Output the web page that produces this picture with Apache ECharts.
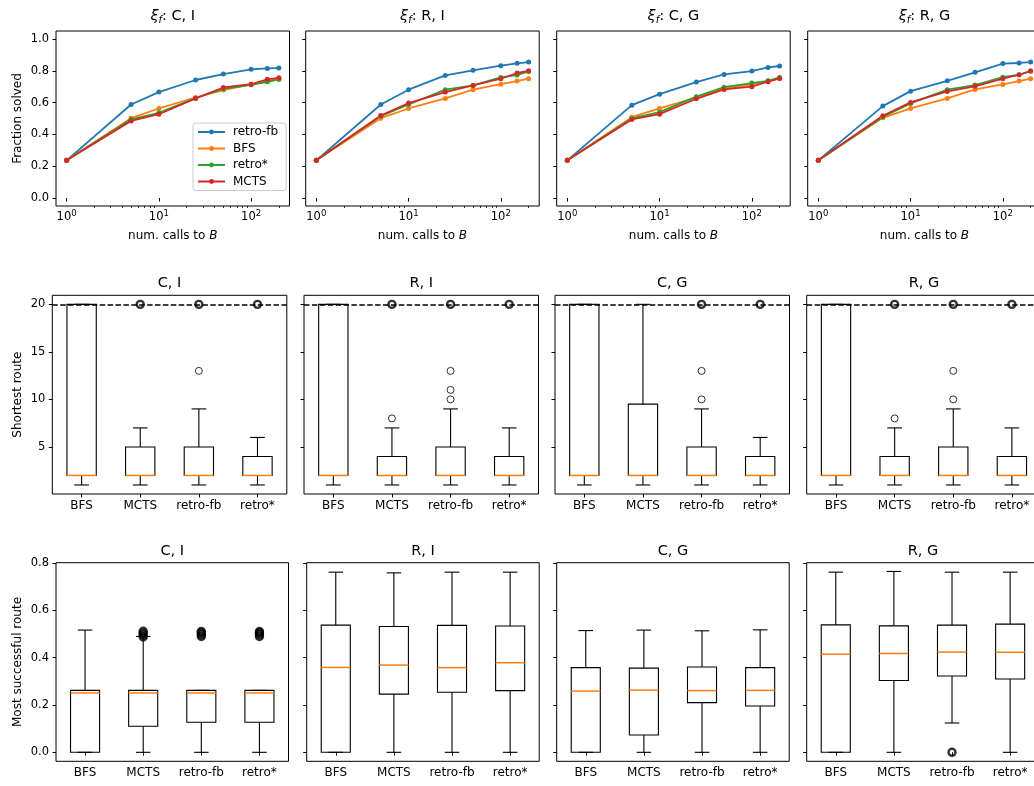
<!DOCTYPE html>
<html>
<head>
<meta charset="utf-8">
<script src="https://cdn.jsdelivr.net/npm/echarts@6/dist/echarts.min.js"></script>
<style>
html, body { margin: 0; padding: 0; background: #fff; }
#chart { width: 1034px; height: 786px; }
</style>
</head>
<body>
<div id="chart"></div>
<script>
// panels, left to right
const panelNames = ['C, I', 'R, I', 'C, G', 'R, G'];

// top row: fraction solved vs number of calls
const callCounts = [1, 5, 10, 25, 50, 100, 150, 200];
const lineMethods = ['retro-fb', 'BFS', 'retro*', 'MCTS'];
const solvedRetroFb = [
    [0.237, 0.588, 0.666, 0.742, 0.779, 0.809, 0.815, 0.817],
    [0.237, 0.588, 0.681, 0.771, 0.803, 0.832, 0.847, 0.855],
    [0.237, 0.584, 0.653, 0.729, 0.777, 0.798, 0.821, 0.830],
    [0.237, 0.578, 0.672, 0.737, 0.790, 0.845, 0.849, 0.855]
];
const solvedBFS = [
    [0.237, 0.502, 0.563, 0.632, 0.679, 0.714, 0.733, 0.745],
    [0.237, 0.502, 0.563, 0.626, 0.681, 0.716, 0.735, 0.750],
    [0.237, 0.508, 0.563, 0.632, 0.687, 0.714, 0.735, 0.752],
    [0.237, 0.504, 0.563, 0.626, 0.683, 0.714, 0.735, 0.750]
];
const solvedRetroStar = [
    [0.237, 0.495, 0.536, 0.628, 0.687, 0.712, 0.731, 0.748],
    [0.237, 0.515, 0.588, 0.681, 0.708, 0.758, 0.773, 0.796],
    [0.237, 0.500, 0.540, 0.637, 0.697, 0.723, 0.737, 0.758],
    [0.237, 0.510, 0.595, 0.681, 0.710, 0.760, 0.775, 0.798]
];
const solvedMCTS = [
    [0.237, 0.485, 0.527, 0.626, 0.695, 0.716, 0.746, 0.756],
    [0.237, 0.519, 0.597, 0.666, 0.708, 0.750, 0.786, 0.800],
    [0.237, 0.494, 0.527, 0.624, 0.683, 0.700, 0.731, 0.752],
    [0.237, 0.517, 0.601, 0.670, 0.702, 0.750, 0.775, 0.798]
];
const decadeTicks = [1, 10, 100];
const minorLogTicks = [2, 3, 4, 5, 6, 7, 8, 9, 20, 30, 40, 50, 60, 70, 80, 90, 200];
const solvedTicks = [0, 0.2, 0.4, 0.6, 0.8, 1.0];

// box plots: [low whisker, q1, median, q3, high whisker]
const boxCategories = ['BFS', 'MCTS', 'retro-fb', 'retro*'];
const shortestStats = [
    [[1, 2, 2, 20, 20], [1, 2, 2, 5, 7], [1, 2, 2, 5, 9], [1, 2, 2, 4, 6]],
    [[1, 2, 2, 20, 20], [1, 2, 2, 4, 7], [1, 2, 2, 5, 9], [1, 2, 2, 4, 7]],
    [[1, 2, 2, 20, 20], [1, 2, 2, 9.5, 20], [1, 2, 2, 5, 9], [1, 2, 2, 4, 6]],
    [[1, 2, 2, 20, 20], [1, 2, 2, 4, 7], [1, 2, 2, 5, 9], [1, 2, 2, 4, 7]]
];
// outliers: [category index, value, how many]
const shortestOutliers = [
    [[1, 20, 30], [2, 13, 1], [2, 20, 30], [3, 20, 30]],
    [[1, 8, 1], [1, 20, 30], [2, 10, 1], [2, 11, 1], [2, 13, 1], [2, 20, 30], [3, 20, 30]],
    [[2, 10, 1], [2, 13, 1], [2, 20, 30], [3, 20, 30]],
    [[1, 8, 1], [1, 20, 30], [2, 10, 1], [2, 13, 1], [2, 20, 30], [3, 20, 30]]
];
const routeCap = 20;
const routeTicks = [5, 10, 15, 20];

const successStats = [
    [[0, 0, 0.251, 0.262, 0.517], [0, 0.110, 0.251, 0.262, 0.490], [0, 0.127, 0.251, 0.262, 0.262], [0, 0.127, 0.251, 0.262, 0.262]],
    [[0, 0, 0.359, 0.538, 0.762], [0, 0.246, 0.369, 0.532, 0.759], [0, 0.254, 0.358, 0.537, 0.762], [0, 0.261, 0.379, 0.534, 0.762]],
    [[0, 0, 0.259, 0.358, 0.515], [0, 0.073, 0.263, 0.356, 0.517], [0, 0.210, 0.261, 0.361, 0.514], [0, 0.196, 0.262, 0.358, 0.518]],
    [[0, 0, 0.415, 0.539, 0.762], [0, 0.304, 0.418, 0.535, 0.765], [0.124, 0.323, 0.424, 0.538, 0.762], [0, 0.310, 0.423, 0.542, 0.762]]
];
const successOutliers = [
    [[1, 0.488, 5], [1, 0.496, 5], [1, 0.504, 5], [1, 0.512, 5], [2, 0.490, 5], [2, 0.498, 5], [2, 0.506, 5], [2, 0.511, 5],
     [3, 0.490, 5], [3, 0.498, 5], [3, 0.506, 5], [3, 0.511, 5]],
    [],
    [],
    [[2, 0, 10]]
];
const successTicks = [0, 0.2, 0.4, 0.6, 0.8];

const FONT = 'DejaVu Sans';
const colors = ['#1f77b4', '#ff7f0e', '#2ca02c', '#d62728'];
const solvedByMethod = [solvedRetroFb, solvedBFS, solvedRetroStar, solvedMCTS];

const rowsLayout = [
    { top: 31, height: 175, lefts: [56, 305.7, 556.7, 807.7], width: 233.5, titleTop: 7.7 },
    { top: 295.3, height: 198.7, lefts: [52.3, 304, 555, 806.7], width: 234.5, titleTop: 274 },
    { top: 562.7, height: 198.6, lefts: [56, 306.7, 556.7, 806.7], width: 232.5, titleTop: 542 }
];

const tick = { show: true, length: 3.5, lineStyle: { color: '#000', width: 1 } };
const tickLabel = { color: '#000', fontSize: 11.5, fontFamily: FONT };

const grids = [], xAxes = [], yAxes = [], series = [], titles = [];

rowsLayout.forEach((row, r) => {
    row.lefts.forEach((left, c) => {
        grids.push({
            left: left, top: row.top, width: row.width, height: row.height,
            containLabel: false, outerBoundsMode: 'none',
            show: true, borderColor: '#000', borderWidth: 1, backgroundColor: 'transparent'
        });
        const text = r === 0 ? '{x|ξ}{s|f}: ' + panelNames[c] : panelNames[c];
        titles.push({
            text: text, left: left + row.width / 2, top: row.titleTop, textAlign: 'center', padding: 0,
            textStyle: {
                fontSize: 14.5, fontWeight: 'normal', color: '#000', fontFamily: FONT, lineHeight: 18,
                rich: {
                    x: { fontSize: 14.5, fontStyle: 'italic', fontFamily: FONT, color: '#000', lineHeight: 18 },
                    s: { fontSize: 10, fontStyle: 'italic', fontFamily: FONT, color: '#000', lineHeight: 10, verticalAlign: 'bottom' }
                }
            }
        });
    });
});

// top row axes and lines
for (let c = 0; c < 4; c++) {
    xAxes.push({
        type: 'log', logBase: 10, gridIndex: c, min: 0.767, max: 260.6,
        axisLine: { show: false }, splitLine: { show: false },
        axisTick: Object.assign({}, tick, { customValues: decadeTicks }),
        axisLabel: Object.assign({}, tickLabel, {
            customValues: decadeTicks, margin: 3, lineHeight: 16,
            formatter: v => '{b|10}{e|' + Math.round(Math.log10(v)) + '}',
            rich: {
                b: { fontSize: 11.5, fontFamily: FONT, color: '#000', lineHeight: 16 },
                e: { fontSize: 8.5, fontFamily: FONT, color: '#000', lineHeight: 8, verticalAlign: 'top' }
            }
        }),
        name: 'num. calls to {i|B}', nameLocation: 'middle', nameGap: 24,
        nameTextStyle: { color: '#000', fontSize: 12, fontFamily: FONT, rich: { i: { fontStyle: 'italic', fontSize: 12, fontFamily: FONT, color: '#000' } } }
    });
    yAxes.push({
        type: 'value', gridIndex: c, min: -0.05, max: 1.05,
        axisLine: { show: false }, splitLine: { show: false },
        axisTick: Object.assign({}, tick, { customValues: solvedTicks }),
        axisLabel: Object.assign({}, tickLabel, { show: c === 0, customValues: solvedTicks, margin: 7, formatter: v => v.toFixed(1) }),
        name: c === 0 ? 'Fraction solved' : '', nameLocation: 'middle', nameGap: 32,
        nameTextStyle: { color: '#000', fontSize: 12, fontFamily: FONT }
    });
    lineMethods.forEach((m, k) => {
        series.push({
            type: 'line', name: m, xAxisIndex: c, yAxisIndex: c,
            data: callCounts.map((x, j) => [x, solvedByMethod[k][c][j]]),
            symbol: 'circle', symbolSize: 5, showSymbol: true,
            lineStyle: { width: 1.8, color: colors[k] }, itemStyle: { color: colors[k] },
            emphasis: { disabled: true }, animation: false
        });
    });
}

function renderBox(params, api) {
    const i = api.value(0);
    const ys = [1, 2, 3, 4, 5].map(k => api.coord([i, api.value(k)])[1]);
    const cx = api.coord([i, api.value(1)])[0];
    const band = api.size([1, 0])[0];
    const hw = band * 0.25, cw = band * 0.125;
    const st = { stroke: '#000', lineWidth: 1.1, fill: null };
    const ln = (x1, y1, x2, y2, style) => ({ type: 'line', shape: { x1, y1, x2, y2 }, style: style || st });
    return {
        type: 'group',
        children: [
            ln(cx, ys[0], cx, ys[1]),
            ln(cx, ys[3], cx, ys[4]),
            ln(cx - cw, ys[0], cx + cw, ys[0]),
            ln(cx - cw, ys[4], cx + cw, ys[4]),
            { type: 'rect', shape: { x: cx - hw, y: ys[3], width: 2 * hw, height: ys[1] - ys[3] }, style: { stroke: '#000', lineWidth: 1.1, fill: null } },
            ln(cx - hw, ys[2], cx + hw, ys[2], { stroke: '#ff7f0e', lineWidth: 1.5 })
        ]
    };
}

function addBoxRow(r, stats, outliers, yMin, yMax, ticks, fmt, yName, nameGap, withCap) {
    for (let c = 0; c < 4; c++) {
        const g = r * 4 + c;
        xAxes.push({
            type: 'category', gridIndex: g, data: boxCategories, boundaryGap: true,
            axisLine: { show: false }, splitLine: { show: false },
            axisTick: Object.assign({}, tick, { alignWithLabel: true }),
            axisLabel: { color: '#000', fontSize: 12, fontFamily: FONT, interval: 0, margin: 6 }
        });
        yAxes.push({
            type: 'value', gridIndex: g, min: yMin, max: yMax,
            axisLine: { show: false }, splitLine: { show: false },
            axisTick: Object.assign({}, tick, { customValues: ticks }),
            axisLabel: Object.assign({}, tickLabel, { show: c === 0, customValues: ticks, margin: 7, formatter: fmt }),
            name: c === 0 ? yName : '', nameLocation: 'middle', nameGap: nameGap,
            nameTextStyle: { color: '#000', fontSize: 12, fontFamily: FONT }
        });
        series.push({
            type: 'custom', xAxisIndex: g, yAxisIndex: g,
            data: stats[c].map((s, i) => [i].concat(s)),
            encode: { x: 0, y: [1, 2, 3, 4, 5] },
            renderItem: renderBox, z: 2, animation: false, silent: true
        });
        const sc = {
            type: 'scatter', xAxisIndex: g, yAxisIndex: g,
            data: outliers[c].map(o => ({ value: [o[0], o[1]], itemStyle: { borderWidth: o[2] > 1 ? 2.4 : 1 } })),
            symbol: 'circle', symbolSize: 7,
            itemStyle: { color: 'rgba(255,255,255,0)', borderColor: '#000', borderWidth: 1 },
            z: 4, animation: false, silent: true
        };
        if (withCap) {
            sc.markLine = {
                silent: true, symbol: ['none', 'none'], label: { show: false },
                lineStyle: { color: '#000', type: [5.5, 2.4], width: 1.5 },
                data: [{ yAxis: routeCap }], animation: false
            };
        }
        series.push(sc);
    }
}

addBoxRow(1, shortestStats, shortestOutliers, 0.05, 20.95, routeTicks, v => String(v), 'Shortest route', 28, true);
addBoxRow(2, successStats, successOutliers, -0.038, 0.802, successTicks, v => v.toFixed(1), 'Most successful route', 32, false);

// minor ticks of the log axes
for (let c = 0; c < 4; c++) {
    xAxes.push({
        type: 'log', logBase: 10, gridIndex: c, min: 0.767, max: 260.6, position: 'bottom',
        axisLine: { show: false }, splitLine: { show: false }, axisLabel: { show: false },
        axisTick: { show: true, length: 2, lineStyle: { color: '#000', width: 0.8 }, customValues: minorLogTicks }
    });
}

const chart = echarts.init(document.getElementById('chart'), null, { renderer: 'canvas' });
chart.setOption({
    backgroundColor: '#fff',
    animation: false,
    textStyle: { fontFamily: FONT },
    title: titles,
    grid: grids,
    xAxis: xAxes,
    yAxis: yAxes,
    legend: {
        data: lineMethods, orient: 'vertical', left: 193, top: 123,
        itemWidth: 27, itemHeight: 6, itemGap: 4.5, padding: [3, 8, 3, 4],
        backgroundColor: 'rgba(255,255,255,0.8)', borderColor: '#ccc', borderWidth: 1, borderRadius: 3,
        textStyle: { fontSize: 12, color: '#000', fontFamily: FONT, padding: [0, 0, 0, 3] },
        selectedMode: false
    },
    series: series
});
</script>
</body>
</html>
